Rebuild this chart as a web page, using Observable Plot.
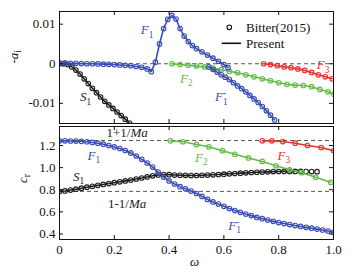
<!DOCTYPE html>
<html><head><meta charset="utf-8">
<script src="https://cdn.jsdelivr.net/npm/d3@7"></script>
<script src="https://cdn.jsdelivr.net/npm/@observablehq/plot@0.6"></script>
<style>
html,body{margin:0;padding:0;background:#fff;}
#chart{position:relative;width:356px;height:272px;background:#fff;}
#chart svg{position:absolute;left:0;overflow:visible;}
</style></head><body><div id="chart"></div><script>
// ---------- data ----------
// top panel: -a_i versus omega
const wF1top = [0,0.02,0.04,0.06,0.08,0.10,0.12,0.14,0.16,0.18,0.20,0.22,0.24,0.26,0.28,0.30,0.32,0.335,0.35,0.365,0.38,0.395,0.41,0.425,0.44,0.455,0.47,0.485,0.50,0.52,0.54,0.56,0.58,0.60,0.615];
const aF1top = [0.0002,0.0002,0.0001,0.0001,0.00005,0,0,-0.00005,-0.0001,-0.00015,-0.0002,-0.0003,-0.0004,-0.0005,-0.0007,-0.0009,-0.0013,-0.0020,0.0004,0.0050,0.0089,0.0112,0.0122,0.0113,0.0089,0.0070,0.0056,0.0046,0.0038,0.0030,0.0022,0.0014,0.0006,-0.0002,-0.0010];
const wF1mTop = [0.545,0.56,0.575,0.59,0.605,0.62,0.635,0.65,0.665,0.68,0.695,0.71,0.725,0.74,0.755,0.77,0.785];
const aF1mTop = [-0.0008,-0.0014,-0.0021,-0.0028,-0.0034,-0.0040,-0.0048,-0.0056,-0.0063,-0.0071,-0.0080,-0.0089,-0.0098,-0.0108,-0.0119,-0.0130,-0.0142];
const wS1top = [0,0.015,0.03,0.045,0.06,0.075,0.09,0.105,0.12,0.135,0.15,0.165,0.18,0.195,0.21,0.225,0.24,0.255,0.265];
const aS1top = [0,-0.00003,-0.0002,-0.0008,-0.0016,-0.0026,-0.0038,-0.0050,-0.0062,-0.0073,-0.0084,-0.0095,-0.0104,-0.0113,-0.0122,-0.0131,-0.0140,-0.0150,-0.0156];
const wF2top = [0.41,0.44,0.47,0.50,0.53,0.56,0.59,0.62,0.65,0.68,0.71,0.74,0.77,0.80,0.83,0.86,0.89,0.92,0.95,0.98,1.0];
const aF2top = [0,-0.0002,-0.0004,-0.0006,-0.0008,-0.0011,-0.0015,-0.0019,-0.0023,-0.0028,-0.0033,-0.0038,-0.0043,-0.0048,-0.0052,-0.0054,-0.0055,-0.0058,-0.0065,-0.0071,-0.0077];
const wF3top = [0.745,0.77,0.795,0.82,0.845,0.87,0.895,0.92,0.945,0.97,0.995];
const aF3top = [0,-0.0002,-0.0005,-0.0008,-0.0010,-0.0013,-0.0017,-0.0022,-0.0028,-0.0033,-0.0038];

// bottom panel: c_r versus omega
const wF1bot = [0,0.02,0.04,0.06,0.08,0.10,0.12,0.14,0.16,0.18,0.20,0.22,0.24,0.26,0.28,0.30,0.32,0.34,0.36,0.38,0.40,0.42,0.44,0.46,0.48,0.50,0.52,0.54,0.56,0.58,0.60,0.62,0.64,0.66,0.68,0.70,0.72,0.74,0.76,0.78,0.80,0.82,0.84,0.86,0.88,0.90,0.92,0.94,0.96,0.98,1.0];
const cF1bot = [1.242,1.242,1.241,1.240,1.238,1.234,1.228,1.221,1.212,1.200,1.187,1.173,1.155,1.133,1.105,1.075,1.042,1.005,0.960,0.915,0.880,0.852,0.828,0.808,0.788,0.766,0.740,0.712,0.690,0.670,0.650,0.630,0.612,0.596,0.580,0.566,0.550,0.538,0.526,0.514,0.503,0.494,0.485,0.476,0.468,0.460,0.452,0.444,0.436,0.427,0.415];
const wS1bot = [0,0.02,0.04,0.06,0.08,0.10,0.12,0.14,0.16,0.18,0.20,0.22,0.24,0.26,0.28,0.30,0.32,0.34,0.36,0.38,0.40,0.42,0.44,0.46,0.48,0.50,0.52,0.54,0.56,0.58,0.60,0.62,0.64,0.66,0.68,0.70,0.72,0.74,0.76,0.78,0.80,0.82,0.84,0.86,0.88,0.90,0.92,0.94];
const cS1bot = [0.784,0.789,0.797,0.805,0.814,0.823,0.831,0.840,0.848,0.856,0.864,0.872,0.880,0.888,0.897,0.906,0.916,0.926,0.934,0.938,0.936,0.933,0.931,0.930,0.929,0.929,0.931,0.933,0.935,0.938,0.941,0.944,0.947,0.950,0.953,0.956,0.958,0.960,0.962,0.964,0.965,0.966,0.966,0.966,0.966,0.965,0.964,0.963];
const s1PresentEnd = 0.87;
const wF2bot = [0.405,0.45,0.50,0.545,0.595,0.64,0.69,0.74,0.79,0.84,0.885,0.935,0.99];
const cF2bot = [1.242,1.234,1.210,1.189,1.153,1.121,1.088,1.056,1.017,0.980,0.954,0.912,0.866];
const wF3bot = [0.74,0.775,0.815,0.86,0.905,0.955,1.0];
const cF3bot = [1.242,1.242,1.236,1.221,1.200,1.182,1.152];

// reference levels
const zeroLevel = [0];
const maLevels = [1.245, 0.785];

// ticks
const xTicks = [0,0.2,0.4,0.6,0.8,1.0];
const yTicksTop = [-0.01,0,0.01];
const yTicksBot = [0.4,0.6,0.8,1.0,1.2];

// colours
const blue = "#3a4db3", green = "#62bd45", red = "#e8322b", black = "#1e1e1e";

// curve labels
const labelsTop = [
  {w:0.32, v:0.0085, t:"*F*_1", c:blue},
  {w:0.463, v:-0.0037, t:"*F*_2", c:green},
  {w:0.591, v:-0.0084, t:"*F*_1^-", c:blue},
  {w:0.962, v:-0.0004, t:"*F*_3", c:red},
  {w:0.095, v:-0.0084, t:"*S*_1", c:black}
];
const labelsBot = [
  {w:0.247, v:1.318, t:"1+1/*Ma*", c:black},
  {w:0.247, v:0.672, t:"1-1/*Ma*", c:black},
  {w:0.125, v:1.107, t:"*F*_1", c:blue},
  {w:0.070, v:0.920, t:"*S*_1", c:black},
  {w:0.518, v:1.091, t:"*F*_2", c:green},
  {w:0.819, v:1.107, t:"*F*_3", c:red},
  {w:0.639, v:0.474, t:"*F*_1^-", c:blue}
];

// ---------- drawing ----------
const font = "'Liberation Serif', 'Times New Roman', serif";
const W = 356, mL = 59, mR = 23;
const frameW = W - mL - mR;

function pts(ws, vs){ return ws.map((w,i)=>({w, v:vs[i]})); }
function series(ws, vs, color, lineEnd = Infinity){
  const p = pts(ws, vs);
  return [
    Plot.line(p.filter(d=>d.w<=lineEnd), {x:"w", y:"v", stroke:color, strokeWidth:1.6, clip:true}),
    Plot.dot(p, {x:"w", y:"v", r:2.3, stroke:color, strokeWidth:1.1, fill:"none", clip:true})
  ];
}
function inwardTicks(yT, frameH){
  return [
    Plot.tickY(yT, {insetRight: frameW-4, stroke:"#111"}),
    Plot.tickY(yT, {insetLeft: frameW-4, stroke:"#111"}),
    Plot.tickX(xTicks, {insetTop: frameH-4, stroke:"#111"}),
    Plot.tickX(xTicks, {insetBottom: frameH-4, stroke:"#111"})
  ];
}

const topH = 125, topMT = 11, topMB = 2;
const topPlot = Plot.plot({
  width:W, height:topH, marginLeft:mL, marginRight:mR, marginTop:topMT, marginBottom:topMB,
  style:{fontFamily:font, fontSize:"13px", background:"transparent", color:"#111"},
  x:{domain:[0,1], axis:null},
  y:{domain:[-0.0151,0.0132]},
  color:{type:"identity"},
  marks:[
    Plot.ruleY(zeroLevel, {stroke:"#444", strokeDasharray:"4,3", strokeWidth:0.9}),
    ...series(wS1top, aS1top, black),
    ...series(wF2top, aF2top, green),
    ...series(wF3top, aF3top, red),
    ...series(wF1top, aF1top, blue),
    ...series(wF1mTop, aF1mTop, blue),
    Plot.frame({stroke:"#111"}),
    ...inwardTicks(yTicksTop, topH-topMT-topMB),
    Plot.axisY({ticks:yTicksTop, tickFormat:d=>d===0?"0":d.toFixed(2), tickSize:0, tickPadding:4, label:null}),
    Plot.text(labelsTop, {x:"w", y:"v", text:"t", fill:"c", fontSize:13}),
    Plot.text(["-*a*_i"], {frameAnchor:"left", dx:-46, dy:-4, rotate:-90, fontSize:13, fill:"#111"})
  ]
});

const botH = 147, botMT = 1, botMB = 33;
const botPlot = Plot.plot({
  width:W, height:botH, marginLeft:mL, marginRight:mR, marginTop:botMT, marginBottom:botMB,
  style:{fontFamily:font, fontSize:"13px", background:"transparent", color:"#111"},
  x:{domain:[0,1]},
  y:{domain:[0.350,1.372]},
  color:{type:"identity"},
  marks:[
    Plot.ruleY(maLevels, {stroke:"#444", strokeDasharray:"4,3", strokeWidth:0.9}),
    ...series(wS1bot, cS1bot, black, s1PresentEnd),
    ...series(wF2bot, cF2bot, green),
    ...series(wF3bot, cF3bot, red),
    ...series(wF1bot, cF1bot, blue),
    Plot.frame({stroke:"#111"}),
    ...inwardTicks(yTicksBot, botH-botMT-botMB),
    Plot.axisY({ticks:yTicksBot, tickFormat:d=>d.toFixed(1), tickSize:0, tickPadding:4, label:null}),
    Plot.axisX({ticks:xTicks, tickFormat:d=>d===0?"0":d.toFixed(1), tickSize:0, tickPadding:5, label:null}),
    Plot.text(labelsBot, {x:"w", y:"v", text:"t", fill:"c", fontSize:13}),
    Plot.text(["*c*_r"], {frameAnchor:"left", dx:-37, rotate:-90, fontSize:13, fill:"#111"}),
    Plot.text(["*ω*"], {frameAnchor:"bottom", dx:-2, dy:26, fontSize:13, fill:"#111"})
  ]
});

// rich text: *italic*, _sub, ^sup
const NS = "http://www.w3.org/2000/svg";
function richify(el){
  const s = el.textContent;
  if (!/[*_^]/.test(s)) return;
  while (el.firstChild) el.removeChild(el.firstChild);
  let italic = false, cur = 0, i = 0, buf = "", prevSub = false;
  const flush = () => {
    if (!buf) return;
    const t = document.createElementNS(NS, "tspan");
    t.textContent = buf;
    if (italic) t.setAttribute("font-style", "italic");
    if (cur !== 0) { t.setAttribute("dy", -cur); cur = 0; }
    el.appendChild(t); buf = ""; prevSub = false;
  };
  while (i < s.length) {
    const ch = s[i];
    if (ch === "*") { flush(); italic = !italic; i++; continue; }
    if (ch === "_" || ch === "^") {
      flush();
      const t = document.createElementNS(NS, "tspan");
      t.textContent = s[i+1];
      t.setAttribute("font-size", "0.72em");
      const target = ch === "_" ? 3.5 : -5;
      t.setAttribute("dy", target - cur);
      if (ch === "^" && prevSub) t.setAttribute("dx", -4.7);
      cur = target; prevSub = ch === "_";
      el.appendChild(t); i += 2; continue;
    }
    buf += ch; i++;
  }
  flush();
}
[topPlot, botPlot].forEach(svg => svg.querySelectorAll("text").forEach(richify));

// legend (inside top panel)
const lg = d3.select(topPlot).append("g").attr("font-family", font).attr("font-size", 13).attr("fill", "#111").attr("text-anchor", "start");
lg.append("circle").attr("cx", 229.3).attr("cy", 27.3).attr("r", 2.3).attr("fill", "none").attr("stroke", "#111").attr("stroke-width", 1.1);
lg.append("text").attr("x", 246).attr("y", 27.3).attr("dy", "0.35em").attr("text-anchor", "start").text("Bitter(2015)");
lg.append("line").attr("x1", 221.7).attr("x2", 241).attr("y1", 43.3).attr("y2", 43.3).attr("stroke", "#111").attr("stroke-width", 1.6);
lg.append("text").attr("x", 246).attr("y", 43.3).attr("dy", "0.35em").attr("text-anchor", "start").text("Present");

const chart = document.getElementById("chart");
topPlot.style.top = "0px";
botPlot.style.top = topH + "px";
chart.appendChild(topPlot);
chart.appendChild(botPlot);
</script></body></html>
